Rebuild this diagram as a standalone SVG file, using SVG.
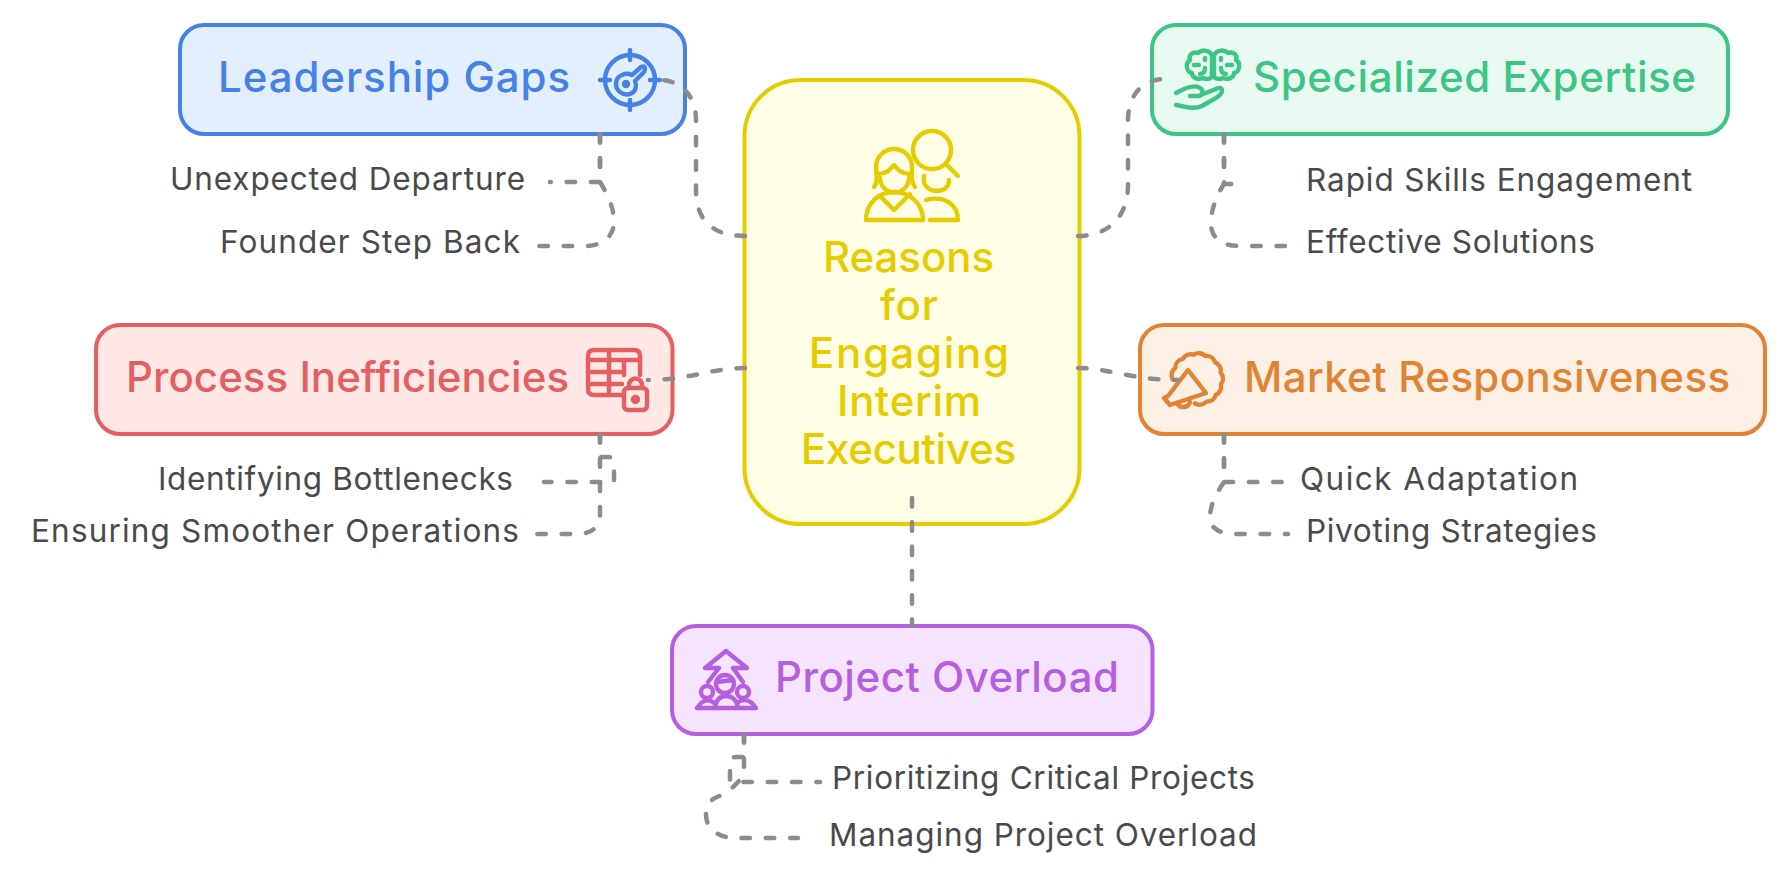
<svg xmlns="http://www.w3.org/2000/svg" width="1790" height="886" viewBox="0 0 1790 886">
<style>
text{font-family:"Inter","Lato","DejaVu Sans",sans-serif}
.box{stroke-width:4}
.ttl{font-size:42px;font-weight:450}
.sub{font-size:31.500px;fill:#4a4a4a}
.ico{fill:none;stroke-width:4.400;stroke-linecap:round;stroke-linejoin:round}
.lnk{fill:none;stroke:#8c8c8c;stroke-width:4.500;stroke-linecap:round;stroke-dasharray:8.5 15.8}
</style>
<rect width="1790" height="886" fill="#fff"/>

<g id="node-center">
<rect class="box" x="744.500" y="80" width="335" height="444" rx="56" fill="#fffde6" stroke="#e5cc00"/>
<g class="ico" stroke="#e5cc00">
<circle cx="932" cy="150" r="19"/>
<path d="M946 164L958 176"/>
<path d="M874 187C879 181 876 173 876 167A18 18 0 0 1 912 167C912 173 910 181 915 187"/>
<path d="M878 174C886 174 890 170 894 165C898 170 902 174 910 174"/>
<path d="M880 178A14.500 14.500 0 0 0 909 178"/>
<path d="M866 220H923C923 204 910 192 894 192C878 192 866 204 866 220Z"/>
<path d="M880 196L894 210L910 194"/>
<path d="M924 176C922 186 930 191 936 191C944 191 949 187 949 180"/>
<path d="M926 200C945 195 958 205 958 220H930"/>
</g>
<g class="ttl" fill="#e5cc00">
<text x="823" y="272" textLength="171">Reasons</text>
<text x="880" y="320" textLength="58">for</text>
<text x="809" y="368" textLength="200">Engaging</text>
<text x="837" y="416" textLength="144">Interim</text>
<text x="801" y="464" textLength="215">Executives</text>
</g>
</g>

<g id="node-leadership">
<rect class="box" x="180" y="25" width="505" height="109" rx="24" fill="#e3eeff" stroke="#4582e6"/>
<text class="ttl" x="218" y="92" fill="#4582e6" textLength="352">Leadership Gaps</text>
<g class="ico" stroke="#4582e6">
<circle cx="630" cy="80" r="25"/>
<path d="M630 50V60M630 100V110M600 80H610M650 80H660"/>
<path d="M622 75C626 73 630 74 632 75L641 67Q645 65 645 69Q645 71 643 73L635 81C637 86 636 92 630 94C622 96 616 90 616 84C616 79 619 76 622 75Z"/>
<circle cx="626" cy="84" r="2" fill="#4582e6"/>
</g>
</g>
<g id="sub-unexpected"><text class="sub" x="170" y="190" textLength="355">Unexpected Departure</text></g>
<g id="sub-founder"><text class="sub" x="220" y="253" textLength="300">Founder Step Back</text></g>

<g id="node-expertise">
<rect class="box" x="1152" y="25" width="576" height="109" rx="24" fill="#e8faf2" stroke="#3ec585"/>
<text class="ttl" x="1253" y="92" fill="#3ec585" textLength="443">Specialized Expertise</text>
<g class="ico" stroke="#3ec585">
<path d="M1212 55C1209 50 1202 49 1198 53C1193 51 1188 55 1190 60C1185 63 1186 72 1192 73C1192 78 1198 80 1203 78C1207 80 1212 79 1212 75Z"/>
<path d="M1214 55C1217 50 1224 49 1228 53C1233 51 1238 55 1236 60C1241 63 1240 72 1234 73C1234 78 1228 80 1223 78C1219 80 1214 79 1214 75Z"/>
<path d="M1194 65H1199M1205 58V60M1205 68C1205 73 1202 74 1200 74M1232 65H1227M1221 58V60M1221 68C1221 73 1224 74 1226 74"/>
<path d="M1176 93C1185 88 1195 84 1200 88C1204 90 1203 96 1198 96H1190M1198 96L1216 89Q1222 86 1222 91Q1222 94 1216 98L1202 106C1196 109 1190 108 1176 105"/>
</g>
</g>
<g id="sub-rapid"><text class="sub" x="1306" y="191" textLength="386">Rapid Skills Engagement</text></g>
<g id="sub-effective"><text class="sub" x="1306" y="253" textLength="289">Effective Solutions</text></g>

<g id="node-process">
<rect class="box" x="96" y="325" width="576.500" height="109" rx="24" fill="#ffe8e6" stroke="#e45f5f"/>
<text class="ttl" x="126" y="392" fill="#e45f5f" textLength="443">Process Inefficiencies</text>
<g class="ico" stroke="#e45f5f">
<path d="M622 395H594Q588 395 588 389V356Q588 350 594 350H634Q640 350 640 356V375"/>
<path d="M588 360H640M588 372H622M588 384H622M609 350V395M624 360V375"/>
<rect x="624" y="388" width="23" height="22" rx="4"/>
<path d="M629 388V385A6.500 6.500 0 0 1 642 385V388"/>
<circle cx="635.500" cy="399.500" r="2.500"/>
</g>
</g>
<g id="sub-bottlenecks"><text class="sub" x="158" y="490" textLength="355">Identifying Bottlenecks</text></g>
<g id="sub-operations"><text class="sub" x="31" y="542" textLength="488">Ensuring Smoother Operations</text></g>

<g id="node-market">
<rect class="box" x="1140" y="325" width="625" height="109" rx="24" fill="#fff0e5" stroke="#e08434"/>
<text class="ttl" x="1244" y="392" fill="#e08434" textLength="486">Market Responsiveness</text>
<g class="ico" stroke="#e08434">
<path d="M1172.500 379A9 9 0 0 1 1175.300 367.700A9 9 0 0 1 1182.900 358.900A9 9 0 0 1 1193.800 354.700A9 9 0 0 1 1205.400 356A9 9 0 0 1 1215.100 362.400A9 9 0 0 1 1220.700 372.700A9 9 0 0 1 1220.900 384.300A9 9 0 0 1 1215.800 394.800A9 9 0 0 1 1206.400 401.600A9 9 0 0 1 1194.900 403.400"/>
<path d="M1188 370L1206 393L1170 405L1164 398L1168 396Z"/>
<path d="M1177 403A7 7 0 0 0 1190 402"/>
</g>
</g>
<g id="sub-adaptation"><text class="sub" x="1300" y="490" textLength="278">Quick Adaptation</text></g>
<g id="sub-pivoting"><text class="sub" x="1306" y="542" textLength="291">Pivoting Strategies</text></g>

<g id="node-overload">
<rect class="box" x="672" y="626" width="480.500" height="108" rx="24" fill="#f6e3fd" stroke="#b55fe0"/>
<text class="ttl" x="775" y="692" fill="#b55fe0" textLength="344">Project Overload</text>
<g class="ico" stroke="#b55fe0">
<path d="M708 682L719 668H705L726 651L747 668H733L743 682"/>
<circle cx="725" cy="684" r="9"/>
<path d="M717 682L733 680"/>
<circle cx="707" cy="692" r="6"/>
<circle cx="743" cy="692" r="6"/>
<path d="M697 708H756L752 703C748 700 742 699 737 703M697 708L701 703C705 700 710 699 714 703M715 708C716 700 720 696 726 696C732 696 737 700 738 708"/>
</g>
</g>
<g id="sub-prioritizing"><text class="sub" x="832" y="789" textLength="423">Prioritizing Critical Projects</text></g>
<g id="sub-managing"><text class="sub" x="829" y="846" textLength="428">Managing Project Overload</text></g>

<g id="connectors">
<path class="lnk" d="M745 236C712 236 696 220 696 190V120C696 95 680 80 660 80"/>
<path class="lnk" d="M600 134V182H550"/>
<path class="lnk" d="M600 134V182C608 195 614 208 614 222C614 238 600 246 585 246H537"/>
<path class="lnk" d="M1078 236C1110 236 1128 215 1128 185V120C1128 98 1140 79 1165 79"/>
<path class="lnk" d="M1224 134V184H1233"/>
<path class="lnk" d="M1224 134V184C1216 196 1211 210 1211 224C1211 238 1222 246 1240 246H1288"/>
<path class="lnk" d="M745 368C710 368 690 380 648 380"/>
<path class="lnk" d="M600 434V457H608Q614 457 614 465V482H544"/>
<path class="lnk" d="M600 434V515C600 528 590 534 578 534H537"/>
<path class="lnk" d="M1078 368C1110 368 1130 380 1178 380"/>
<path class="lnk" d="M1224 434V482H1282"/>
<path class="lnk" d="M1224 434V482C1216 494 1210 505 1210 518C1210 528 1220 534 1235 534H1288"/>
<path class="lnk" d="M912 498V626"/>
<path class="lnk" d="M744 734V757H736Q730 757 730 763V782H820"/>
<path class="lnk" d="M744 734V772C740 784 725 794 715 798C708 802 706 808 706 815C706 828 718 838 735 838H798"/>
</g>
</svg>
